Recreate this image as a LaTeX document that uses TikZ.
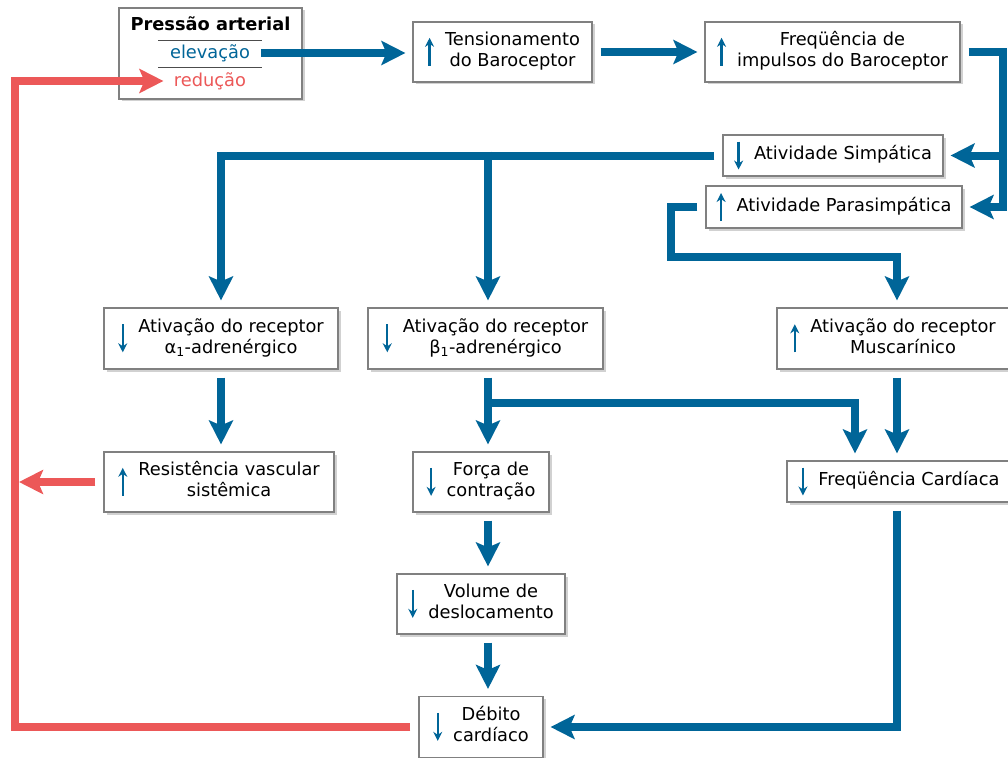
\documentclass[tikz,border=0pt]{standalone}
\usepackage{fontspec}
\setmainfont{DejaVu Sans}
\usetikzlibrary{arrows.meta, positioning, shadows}
\usepackage{xcolor}
\definecolor{baroblue}{RGB}{0,101,152}
\definecolor{barored}{RGB}{236,88,88}
\definecolor{boxgray}{RGB}{128,128,128}
\def\flowwidth{8pt}
\def\boxfont{\fontsize{17.8}{21}\selectfont}

% small up / down marks in front of every label
\newcommand{\upmark}{\tikz[x=1pt,y=1pt,baseline=-4.5pt]\draw[baroblue,line width=2.4pt,-{Stealth[length=9pt,width=9pt]}] (0,-14) -- (0,14);}
\newcommand{\dnmark}{\tikz[x=1pt,y=1pt,baseline=-4.5pt]\draw[baroblue,line width=2.4pt,-{Stealth[length=9pt,width=9pt]}] (0,14) -- (0,-14);}
\newcommand{\boxtext}[2]{#1\hspace{11pt}\begin{tabular}{@{}c@{}}#2\end{tabular}}

\begin{document}
\begin{tikzpicture}[x=1pt,y=-1pt]
    \tikzstyle{box}=[draw=boxgray, line width=1.1pt, fill=white, inner sep=0pt, font=\boxfont, drop shadow={shadow xshift=2.5pt, shadow yshift=-2.5pt, opacity=0.18, fill=black}]
    \tikzstyle{flow}=[draw=baroblue, line width=\flowwidth, -{Stealth[length=24pt,width=24pt,inset=5pt]}, shorten <=8pt, shorten >=7pt]
    \tikzstyle{back}=[flow, draw=barored]
    \tikzstyle{reading}=[font=\boxfont]
    \tikzstyle{divider}=[draw=black!70, line width=1pt]

    \useasboundingbox (0,0) rectangle (1008,757);
    \clip (0,0) rectangle (1008,757);

    % Pressao arterial box with its two readings
    \node[box, minimum width=183pt, minimum height=91pt] (pa) at (210.5,53.5) {};
    \node[reading, font=\boxfont\bfseries] (patitle) at (210.5,24) {Pressão arterial};
    \node[reading, text=baroblue] (elev) at (210,53) {elevação};
    \node[reading, text=barored] (redu) at (210,81) {redução};
    \draw[divider] (158,41) -- (262,41);
    \draw[divider] (158,68) -- (262,68);

    % Baroceptor row
    \node[box, minimum width=179pt, minimum height=60pt] (tens) at (502.5,52) {\boxtext{\upmark}{Tensionamento\\do Baroceptor}};
    \node[box, minimum width=255pt, minimum height=60pt] (freq) at (832.5,52) {\boxtext{\upmark}{Freqüência de\\impulsos do Baroceptor}};

    % Autonomic activity
    \node[box, minimum width=220pt, minimum height=41pt] (simp) at (833,155.5) {\boxtext{\dnmark}{Atividade Simpática}};
    \node[box, minimum width=256pt, minimum height=42pt] (para) at (834,207) {\boxtext{\upmark}{Atividade Parasimpática}};

    % Receptors
    \node[box, minimum width=234pt, minimum height=61pt] (alpha) at (221,338.5) {\boxtext{\dnmark}{Ativação do receptor\\α\textsubscript{1}-adrenérgico}};
    \node[box, minimum width=235pt, minimum height=61pt] (beta) at (485.5,338.5) {\boxtext{\dnmark}{Ativação do receptor\\β\textsubscript{1}-adrenérgico}};
    \node[box, minimum width=232pt, minimum height=61pt] (musc) at (893,338.5) {\boxtext{\upmark}{Ativação do receptor\\Muscarínico}};

    % Effects
    \node[box, minimum width=230pt, minimum height=60pt] (resist) at (219,482) {\boxtext{\upmark}{Resistência vascular\\sistêmica}};
    \node[box, minimum width=136pt, minimum height=60pt] (forca) at (481,482) {\boxtext{\dnmark}{Força de\\contração}};
    \node[box, minimum width=224pt, minimum height=41pt] (fcard) at (899,481.5) {\boxtext{\dnmark}{Freqüência Cardíaca}};
    \node[box, minimum width=168pt, minimum height=60pt] (volume) at (481,604) {\boxtext{\dnmark}{Volume de\\deslocamento}};
    \node[box, minimum width=124pt, minimum height=61pt] (debito) at (481,727) {\boxtext{\dnmark}{Débito\\cardíaco}};

    % vertical lines that the flows run along
    \coordinate (spine) at (488,0);
    \coordinate (rail) at (1003,0);
    \coordinate (mline) at (897,0);
    \coordinate (fline) at (855,0);
    \coordinate (fork) at (488,403);
    \coordinate (redrail) at (15,0);

    % Pressure to baroceptor
    \draw[flow] (elev.east) -- (elev.east -| tens.west);
    \draw[flow] (tens.east) -- (freq.west);

    % Baroceptor to autonomic activity
    \draw[flow] (freq.east) -| (rail |- para.east) -- (para.east);
    \draw[flow, shorten <=0pt] ([xshift=4pt]rail |- simp.east) -- (simp.east);

    % Sympathetic branch
    \draw[flow] (simp.west) -| (alpha.north);
    \draw[flow, shorten <=0pt] ([yshift=4pt]spine |- simp.west) -- (spine |- beta.north);

    % Parasympathetic branch
    \draw[flow] (para.west) -| ++(-34,50) -| (mline |- musc.north);

    % Receptors to effects
    \draw[flow] (alpha.south) -- (alpha.south |- resist.north);
    \draw[flow] (spine |- beta.south) -- (spine |- forca.north);
    \draw[flow, shorten <=0pt] (fork) -| (fline |- fcard.north);
    \draw[flow] (mline |- musc.south) -- (mline |- fcard.north);
    \draw[flow] (spine |- forca.south) -- (spine |- volume.north);
    \draw[flow] (spine |- volume.south) -- (spine |- debito.north);
    \draw[flow] (mline |- fcard.south) |- (debito.east);

    % Feedback to arterial pressure
    \draw[back, shorten >=4pt] (resist.west) -- (redrail |- resist.west);
    \draw[back] (debito.west) -| (redrail |- redu.west) -- (redu.west);
\end{tikzpicture}
\end{document}
